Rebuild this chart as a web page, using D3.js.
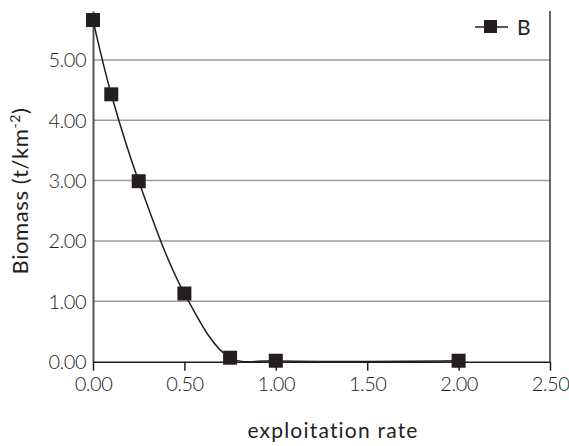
<!DOCTYPE html>
<html><head><meta charset="utf-8">
<script src="https://cdn.jsdelivr.net/npm/d3@7"></script>
<style>body{margin:0;background:#fff}svg{display:block}text{font-family:Lato,"Open Sans",sans-serif;fill:#231f20;font-weight:300}</style>
</head><body><svg id="c" width="569" height="446"></svg>
<script>
const xValues = [0, 0.1, 0.25, 0.5, 0.75, 1.0, 2.0];
const yValues = [5.66, 4.43, 2.99, 1.13, 0.066, 0.016, 0.016];
const seriesName = "B";
const xTicks = [0, 0.5, 1.0, 1.5, 2.0, 2.5];
const yTicks = [0, 1, 2, 3, 4, 5];
const xTitle = "exploitation rate";

const svg = d3.select("#c");
const L = 93, R = 550, T = 11, B = 361.7;
const x = d3.scaleLinear().domain([0, 2.5]).range([L, R]);
const y = d3.scaleLinear().domain([0, 5.81]).range([B, T]);
const fmt = d3.format(".2f");

// gridlines
svg.append("g").selectAll("line").data(yTicks.filter(d => d > 0)).join("line")
  .attr("x1", L).attr("x2", R).attr("y1", d => y(d)).attr("y2", d => y(d))
  .attr("stroke", "#9d9d9d").attr("stroke-width", 1.5);

// right border
svg.append("line").attr("x1", R).attr("x2", R).attr("y1", T).attr("y2", B)
  .attr("stroke", "#333").attr("stroke-width", 1.5);

// y axis
const ya = svg.append("g").attr("transform", `translate(${L},0)`)
  .call(d3.axisLeft(y).tickValues(yTicks).tickFormat(fmt).tickSize(0).tickPadding(7));
ya.select(".domain").attr("stroke", "#555").attr("stroke-width", 2);
ya.selectAll("text").attr("font-size", 20).attr("dy", "0.35em").style("font-family", "Lato").style("font-weight", 300).attr("fill", "#231f20").attr("letter-spacing", "-0.5");

// x axis
const xa = svg.append("g").attr("transform", `translate(0,${B})`)
  .call(d3.axisBottom(x).tickValues(xTicks).tickFormat(fmt).tickSizeInner(9).tickSizeOuter(0).tickPadding(6));
xa.select(".domain").attr("stroke", "#231f20").attr("stroke-width", 1.5);
xa.selectAll(".tick line").attr("stroke", "#231f20").attr("stroke-width", 1.5);
xa.selectAll("text").attr("font-size", 20).style("font-family", "Lato").style("font-weight", 300).attr("fill", "#231f20").attr("letter-spacing", "-0.5");

// line
const pts = xValues.map((v, i) => [v, yValues[i]]);
svg.append("path").datum(pts)
  .attr("d", d3.line().x(d => x(d[0])).y(d => y(d[1])).curve(d3.curveCatmullRom.alpha(0.5)))
  .attr("fill", "none").attr("stroke", "#231f20").attr("stroke-width", 1.5);

// markers
const ms = 14;
svg.append("g").selectAll("rect").data(pts).join("rect")
  .attr("x", d => x(d[0]) - ms/2).attr("y", d => y(d[1]) - ms/2)
  .attr("width", ms).attr("height", ms).attr("fill", "#231f20");

// legend
svg.append("line").attr("x1", 475).attr("x2", 508).attr("y1", 27).attr("y2", 27)
  .attr("stroke", "#231f20").attr("stroke-width", 1.5);
svg.append("rect").attr("x", 484).attr("y", 20).attr("width", 13).attr("height", 13).attr("fill", "#231f20");
svg.append("text").attr("x", 517).attr("y", 35).attr("font-size", 21).style("font-weight", 400).text(seriesName);

// titles
svg.append("text").attr("x", 333).attr("y", 438).attr("text-anchor", "middle")
  .attr("font-size", 21).attr("letter-spacing", "1.2").style("font-weight", 400).text(xTitle);
const yt = svg.append("text").attr("transform", "translate(28,191) rotate(-90)")
  .attr("text-anchor", "middle").attr("font-size", 22).attr("letter-spacing", "0.6").style("font-weight", 400);
yt.append("tspan").text("Biomass (t/km");
yt.append("tspan").attr("baseline-shift", "super").attr("font-size", 14).text("-2");
yt.append("tspan").text(")");
</script></body></html>
